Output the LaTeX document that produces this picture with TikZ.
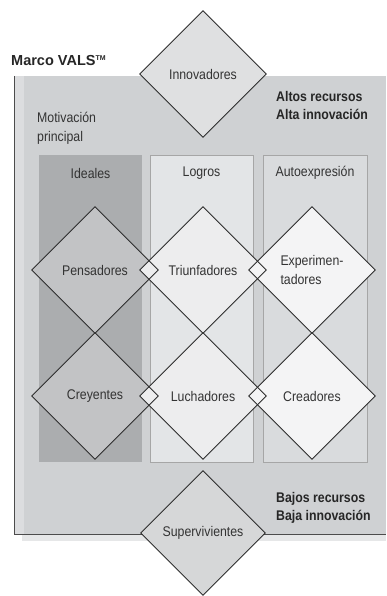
\documentclass[tikz,border=0pt]{standalone}
\usepackage{fontspec}
\setmainfont{Liberation Sans}[FakeStretch=0.88]
\newfontfamily\widefont{Liberation Sans}
\usetikzlibrary{shapes.geometric}
\definecolor{outerbox}{HTML}{CFD1D3}
\definecolor{outerstrip}{HTML}{DCDDDF}
\definecolor{shadowc}{HTML}{E6E7E8}
\definecolor{colideal}{HTML}{ABADAF}
\definecolor{collogro}{HTML}{E3E5E7}
\definecolor{colauto}{HTML}{D9DBDD}
\definecolor{dideal}{HTML}{C2C3C5}
\definecolor{dlogro}{HTML}{EDEDEE}
\definecolor{dauto}{HTML}{F4F4F5}
\definecolor{dinnov}{HTML}{DFE0E1}
\definecolor{dsuper}{HTML}{D6D7D8}
\definecolor{linec}{HTML}{2E2E2E}
\definecolor{txt}{HTML}{333333}
\tikzset{
  dia/.style={shape=diamond, shape aspect=1, inner sep=0pt, minimum width=#1, minimum height=#1, text=txt, font=\fontsize{14}{16}\selectfont},
  dia/.default=126pt,
  outl/.style={draw=linec, line width=0.9pt, line join=miter},
  lbl/.style={text=txt, font=\fontsize{14}{19}\selectfont, inner sep=0pt},
  blbl/.style={text=black!85, font=\bfseries\fontsize{14}{18}\selectfont, inner sep=0pt, align=left, anchor=west},
  colbox/.style={draw=gray!70, line width=0.6pt}
}
\begin{document}
\begin{tikzpicture}[x=1pt,y=-1pt]
\useasboundingbox (0,0) rectangle (386,596);
\fill[white] (0,0) rectangle (386,596);
% outer frame
\fill[shadowc] (22,534) rectangle (386,541);
\fill[outerbox] (14,76) rectangle (386,534);
\fill[outerstrip] (14,76) rectangle (24,534);
\draw[gray!60!black, line width=0.8pt] (14,76) -- (14,534) -- (386,534);
% columns
\fill[colideal] (39,155) rectangle (142,462);
\filldraw[fill=collogro, colbox] (150,155) rectangle (253,462);
\filldraw[fill=colauto, colbox] (263,155) rectangle (367,462);
\node[lbl] (hid) at (90.5,173) {Ideales};
\node[lbl] (hlo) at (201.5,173) {Logros};
\node[lbl] (hau) at (315,173) {Autoexpresión};
% texts
\node[lbl, anchor=west, align=left] (motiv) at (37,128) {Motivación\\principal};
\node[blbl] (marco) at (11,61) {\widefont\bfseries\fontsize{14.5}{16}\selectfont Marco VALS\textsuperscript{\fontsize{7}{8}\selectfont TM}};
\node[blbl] (altos) at (276,105) {Altos recursos\\Alta innovación};
\node[blbl] (bajos) at (276,508) {Bajos recursos\\Baja innovación};
% diamonds (fills)
\node[dia, fill=dinnov] (inn) at (203,74) {Innovadores};
\node[dia, fill=dideal] (pen) at (95,270) {Pensadores};
\node[dia, fill=dideal] (cre) at (95,396) {Creyentes};
\node[dia, fill=dlogro] (tri) at (203,270) {Triunfadores};
\node[dia, fill=dlogro] (luc) at (203,396) {Luchadores};
\node[dia, fill=dauto] (exp) at (312,270) {};
\node[dia, fill=dauto] (crd) at (312,396) {Creadores};
\node[dia=124pt, fill=dsuper] (sup) at (203,533) {Supervivientes};
\node[lbl, align=left, font=\fontsize{14}{19}\selectfont] (exptxt) at (exp.center) {Experimen-\\tadores};
% outlines on top
\foreach \n in {inn,pen,cre,tri,luc,exp,crd,sup}
  \draw[outl] (\n.north) -- (\n.east) -- (\n.south) -- (\n.west) -- cycle;
\end{tikzpicture}
\end{document}
